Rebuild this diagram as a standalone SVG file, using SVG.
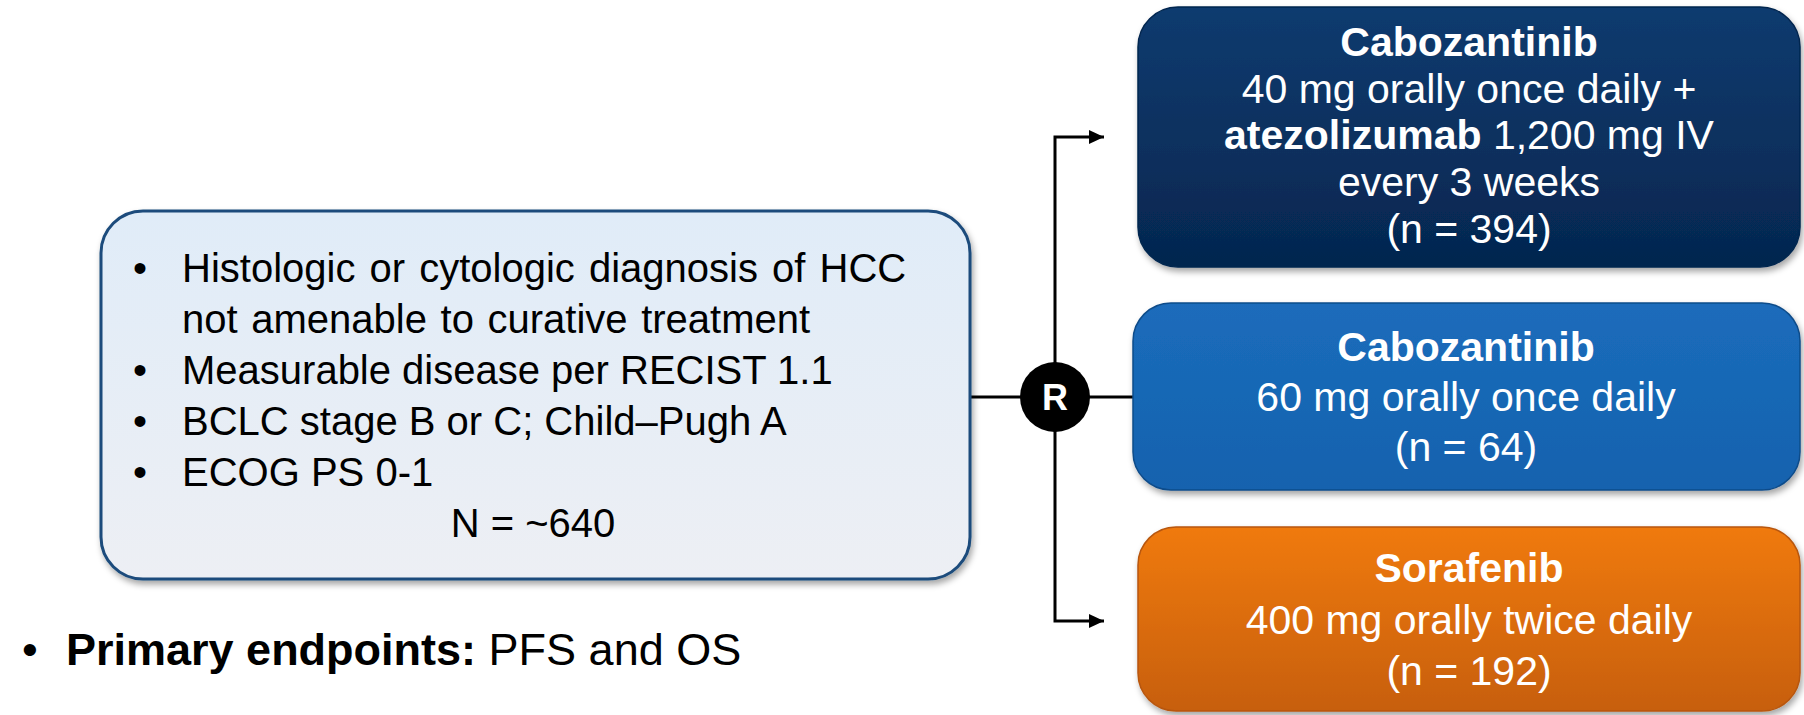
<svg xmlns="http://www.w3.org/2000/svg" width="1804" height="715" viewBox="0 0 1804 715">
<defs>
<style>
.t{font-family:"Liberation Sans",Arial,sans-serif;}
.lt{font-size:40px;fill:#000;}
.rt{font-size:41px;fill:#fff;text-anchor:middle;}
.b{font-weight:bold;}
.ln{stroke:#000;stroke-width:3;fill:none;}
</style>
<linearGradient id="gL" x1="0" y1="0" x2="0" y2="1"><stop offset="0" stop-color="#e0ecf8"/><stop offset="1" stop-color="#edeff4"/></linearGradient>
<linearGradient id="gN" x1="0" y1="0" x2="0" y2="1"><stop offset="0" stop-color="#0e3b6f"/><stop offset="1" stop-color="#05264f"/></linearGradient>
<linearGradient id="gB" x1="0" y1="0" x2="0" y2="1"><stop offset="0" stop-color="#1b6cbb"/><stop offset="1" stop-color="#1562ae"/></linearGradient>
<linearGradient id="gO" x1="0" y1="0" x2="0" y2="1"><stop offset="0" stop-color="#f07a0b"/><stop offset="1" stop-color="#c75f0f"/></linearGradient>
<filter id="sh" x="-5%" y="-5%" width="110%" height="115%"><feDropShadow dx="2" dy="4" stdDeviation="3" flood-color="#000" flood-opacity="0.35"/></filter>
<marker id="ar" markerWidth="16" markerHeight="16" refX="15" refY="8" orient="auto" markerUnits="userSpaceOnUse"><path d="M0,1 L15,8 L0,15 Z" fill="#000"/></marker>
</defs>
<rect width="1804" height="715" fill="#fff"/>

<g id="connectors">
<line class="ln" x1="970" y1="397" x2="1133" y2="397"/>
<polyline class="ln" points="1055,397 1055,137 1104,137" marker-end="url(#ar)"/>
<polyline class="ln" points="1055,397 1055,621 1104,621" marker-end="url(#ar)"/>
</g>

<g id="eligibility">
<rect x="101" y="211" width="869" height="368" rx="42" fill="url(#gL)" stroke="#1b4b7b" stroke-width="3" filter="url(#sh)"/>
<g class="t lt">
<text x="133" y="282">•</text>
<text x="182" y="282" word-spacing="3">Histologic or cytologic diagnosis of HCC</text>
<text x="182" y="333" word-spacing="2.5">not amenable to curative treatment</text>
<text x="133" y="384">•</text>
<text x="182" y="384">Measurable disease per RECIST 1.1</text>
<text x="133" y="435">•</text>
<text x="182" y="435">BCLC stage B or C; Child–Pugh A</text>
<text x="133" y="486">•</text>
<text x="182" y="486">ECOG PS 0-1</text>
<text x="533" y="537" text-anchor="middle">N = ~640</text>
</g>
</g>

<g id="randomize">
<circle cx="1055" cy="397" r="35" fill="#000"/>
<text class="t b" x="1055" y="410" font-size="36" fill="#fff" text-anchor="middle">R</text>
</g>

<g id="arm-cabo-atezo">
<rect x="1138" y="7" width="662" height="260" rx="40" fill="url(#gN)" stroke="#05264f" stroke-width="1.5" filter="url(#sh)"/>
<g class="t rt">
<text x="1469" y="56" class="b">Cabozantinib</text>
<text x="1469" y="103">40 mg orally once daily +</text>
<text x="1469" y="149"><tspan class="b">atezolizumab</tspan> 1,200 mg IV</text>
<text x="1469" y="196">every 3 weeks</text>
<text x="1469" y="243">(n = 394)</text>
</g>
</g>

<g id="arm-cabo">
<rect x="1133" y="303" width="667" height="187" rx="38" fill="url(#gB)" stroke="#0f4c8a" stroke-width="1.5" filter="url(#sh)"/>
<g class="t rt">
<text x="1466" y="361" class="b">Cabozantinib</text>
<text x="1466" y="411">60 mg orally once daily</text>
<text x="1466" y="461">(n = 64)</text>
</g>
</g>

<g id="arm-sorafenib">
<rect x="1138" y="527" width="662" height="184" rx="38" fill="url(#gO)" stroke="#b8560c" stroke-width="1.5" filter="url(#sh)"/>
<g class="t rt">
<text x="1469" y="582" class="b">Sorafenib</text>
<text x="1469" y="634">400 mg orally twice daily</text>
<text x="1469" y="685">(n = 192)</text>
</g>
</g>

<g id="endpoints">
<text class="t" x="22" y="665" font-size="45" fill="#000">•</text>
<text class="t" x="66" y="665" font-size="45" fill="#000"><tspan class="b">Primary endpoints:</tspan> PFS and OS</text>
</g>
</svg>
